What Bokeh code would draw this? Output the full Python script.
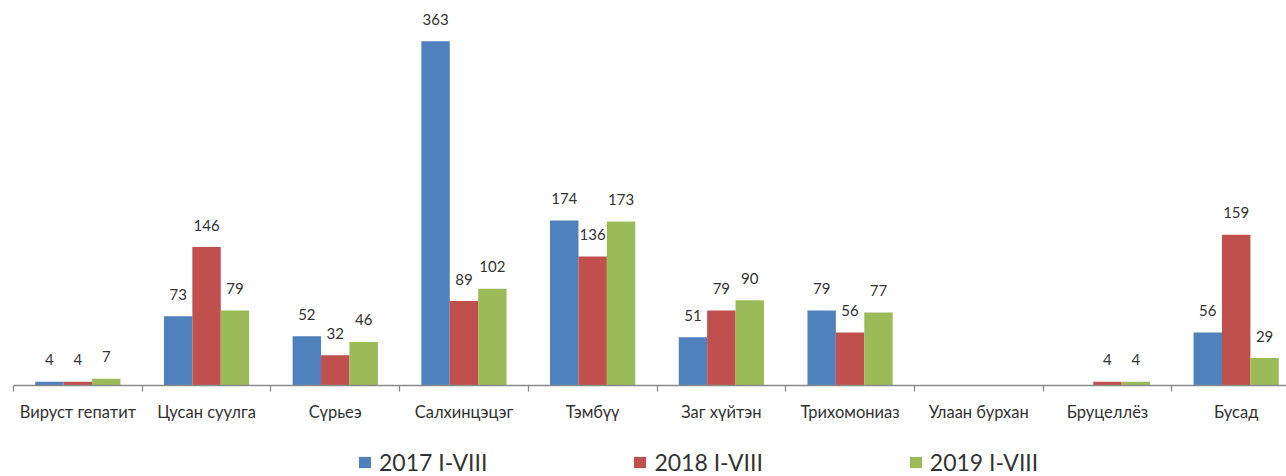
from bokeh.plotting import figure
from bokeh.layouts import column
from bokeh.models import Range1d, FixedTicker, ColumnDataSource, LabelSet, Legend, LegendItem
from bokeh.embed import file_html
from bokeh.resources import INLINE
from bokeh.core.properties import value

categories = ["Вируст гепатит", "Цусан суулга", "Сүрьеэ", "Салхинцэцэг", "Тэмбүү",
              "Заг хүйтэн", "Трихомониаз", "Улаан бурхан", "Бруцеллёз", "Бусад"]
series_names = ["2017 I-VIII", "2018 I-VIII", "2019 I-VIII"]
v2017 = [4, 73, 52, 363, 174, 51, 79, None, None, 56]
v2018 = [4, 146, 32, 89, 136, 79, 56, None, 4, 159]
v2019 = [7, 79, 46, 102, 173, 90, 77, None, 4, 29]
colors = ["#4F81BD", "#C0504D", "#9BBB59"]

FONT = "Lato"
TXT = "#333333"
BAR_W = 0.2207
W = 1286
H_MAIN = 436
H_LEG = 40

p = figure(width=W, height=H_MAIN, x_range=Range1d(-0.5, 9.391), y_range=Range1d(0, 406.1),
           output_backend="svg", toolbar_location=None,
           min_border_left=13, min_border_right=0, min_border_top=0, min_border_bottom=51)
p.outline_line_color = None
p.xgrid.visible = False
p.ygrid.visible = False
p.yaxis.visible = False

ax = p.xaxis[0]
ax.ticker = FixedTicker(ticks=list(range(len(categories))),
                        minor_ticks=[i - 0.5 for i in range(len(categories) + 1)])
ax.major_label_overrides = {i: c for i, c in enumerate(categories)}
ax.major_tick_line_color = None
ax.major_tick_out = 0
ax.major_tick_in = 0
ax.minor_tick_in = 0
ax.minor_tick_out = 6
ax.minor_tick_line_color = "#8a8a8a"
ax.axis_line_color = "#8a8a8a"
ax.axis_line_width = 1.3
ax.minor_tick_line_width = 1.3
ax.major_label_standoff = 10
ax.major_label_text_font = FONT
ax.major_label_text_font_size = "16.5px"
ax.major_label_text_color = TXT

sources = []
for k, (vals, col) in enumerate(zip([v2017, v2018, v2019], colors)):
    xs, tops, txt = [], [], []
    for i, v in enumerate(vals):
        if v is None:
            continue
        xs.append(i + (k - 1) * BAR_W)
        tops.append(v)
        txt.append(str(v))
    src = ColumnDataSource(dict(x=xs, top=tops, text=txt))
    sources.append(src)
    p.vbar(x="x", top="top", width=BAR_W, source=src, fill_color=col, line_color=None)
    p.add_layout(LabelSet(x="x", y="top", text="text", source=src, y_offset=22,
                          text_align="center", text_baseline="middle",
                          text_font=value(FONT), text_font_size="15px", text_color=TXT))

# legend strip below the chart (its renderers share the series' sources, hidden)
lf = figure(width=W, height=H_LEG, x_range=Range1d(0, 1), y_range=Range1d(0, 1),
            output_backend="svg", toolbar_location=None,
            x_axis_location=None, y_axis_location=None,
            min_border_left=13, min_border_right=0, min_border_top=0, min_border_bottom=0)
lf.outline_line_color = None
lf.xgrid.visible = False
lf.ygrid.visible = False
items = []
for name, col, src in zip(series_names, colors, sources):
    r = lf.vbar(x="x", top="top", width=BAR_W, source=src, fill_color=col, line_color=None,
                visible=False)
    items.append(LegendItem(label=name, renderers=[r]))
legend = Legend(items=items, orientation="horizontal", location=(344, 0),
                glyph_width=15, glyph_height=14, label_standoff=7, label_width=108, spacing=145,
                padding=0, margin=0, border_line_color=None, background_fill_alpha=0,
                click_policy="none", inactive_fill_alpha=0,
                label_text_font=FONT, label_text_font_size="23px", label_text_color=TXT)
lf.add_layout(legend, "center")

open("out.html", "w").write(file_html(column(p, lf, spacing=0), INLINE))
